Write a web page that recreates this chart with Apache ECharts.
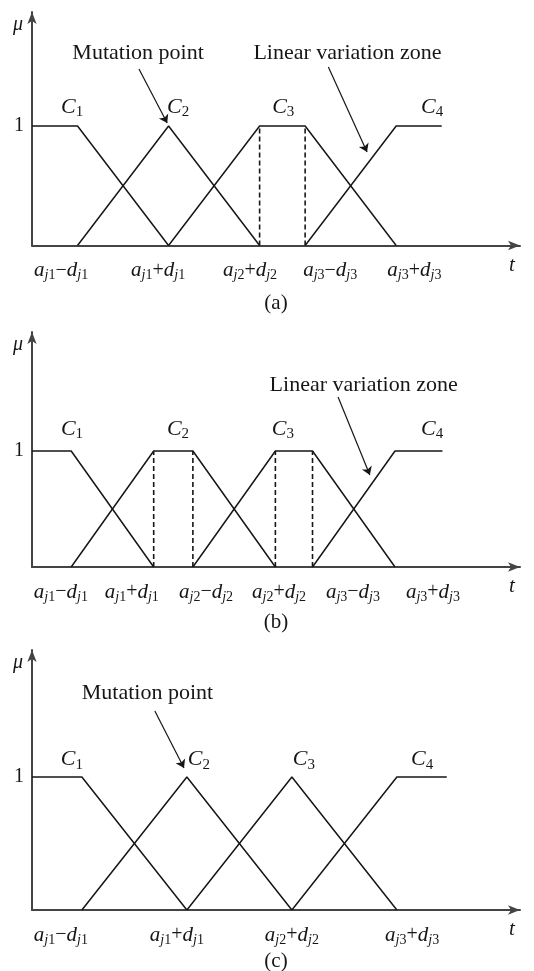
<!DOCTYPE html>
<html><head><meta charset="utf-8">
<script src="https://cdn.jsdelivr.net/npm/echarts@6/dist/echarts.min.js"></script>
<style>html,body{margin:0;padding:0;background:#fff}#c{width:534px;height:971px}</style>
</head><body><div id="c"></div>
<script>
// ================= DATA =================
const panelNames = ['(a)', '(b)', '(c)'];

// ---- panel (a) ----
const a_C1 = [[0, 1], [1, 1], [3, 0]];
const a_C2 = [[1, 0], [3, 1], [5, 0]];
const a_C3 = [[3, 0], [5, 1], [6, 1], [8, 0]];
const a_C4 = [[6, 0], [8, 1], [9, 1]];
const a_dashedX = [5, 6];
const a_tickPos = [0.64, 2.77, 4.79, 6.55, 8.40];
const a_tickLabels = ['a_{j1}−d_{j1}', 'a_{j1}+d_{j1}', 'a_{j2}+d_{j2}', 'a_{j3}−d_{j3}', 'a_{j3}+d_{j3}'];
const a_cLabelX = [0.88, 3.21, 5.52, 8.79];
const a_cLabelY = 1.16;
const a_noteText = ['Mutation point', 'Linear variation zone'];
const a_notePos = [[2.33, 1.61], [6.93, 1.61]];
const a_arrowFrom = [[2.35, 1.477], [6.51, 1.494]];
const a_arrowTo = [[2.97, 1.025], [7.36, 0.782]];

// ---- panel (b) ----
const b_C1 = [[0, 1], [0.95, 1], [2.95, 0]];
const b_C2 = [[0.95, 0], [2.95, 1], [3.9, 1], [5.9, 0]];
const b_C3 = [[3.9, 0], [5.9, 1], [6.8, 1], [8.8, 0]];
const b_C4 = [[6.8, 0], [8.8, 1], [9.95, 1]];
const b_dashedX = [2.95, 3.9, 5.9, 6.8];
const b_tickPos = [0.70, 2.42, 4.22, 5.99, 7.78, 9.72];
const b_tickLabels = ['a_{j1}−d_{j1}', 'a_{j1}+d_{j1}', 'a_{j2}−d_{j2}', 'a_{j2}+d_{j2}', 'a_{j3}−d_{j3}', 'a_{j3}+d_{j3}'];
const b_cLabelX = [0.97, 3.54, 6.08, 9.70];
const b_cLabelY = 1.19;
const b_noteText = ['Linear variation zone'];
const b_notePos = [[8.04, 1.569]];
const b_arrowFrom = [[7.42, 1.466]];
const b_arrowTo = [[8.19, 0.793]];

// ---- panel (c) ----
const c_C1 = [[0, 1], [0.95, 1], [2.95, 0]];
const c_C2 = [[0.95, 0], [2.95, 1], [4.95, 0]];
const c_C3 = [[2.95, 0], [4.95, 1], [6.95, 0]];
const c_C4 = [[4.95, 0], [6.95, 1], [7.9, 1]];
const c_dashedX = [];
const c_tickPos = [0.55, 2.76, 4.95, 7.24];
const c_tickLabels = ['a_{j1}−d_{j1}', 'a_{j1}+d_{j1}', 'a_{j2}+d_{j2}', 'a_{j3}+d_{j3}'];
const c_cLabelX = [0.76, 3.18, 5.18, 7.43];
const c_cLabelY = 1.13;
const c_noteText = ['Mutation point'];
const c_notePos = [[2.2, 1.632]];
const c_arrowFrom = [[2.34, 1.496]];
const c_arrowTo = [[2.895, 1.068]];

const cNames = ['C_{1}', 'C_{2}', 'C_{3}', 'C_{4}'];
const xMax = [10.72, 11.83, 9.295];
const yMax = [1.954, 2.026, 1.955];
const yTickValues = [1];

// ================= LAYOUT / STYLE =================
const FONT = "'Liberation Serif', 'DejaVu Serif', serif";
const INK = '#161616';
const AXIS = '#444';
const grids = [
  { left: 32, right: 14, top: 12, height: 233.5 },
  { left: 32, right: 14, top: 332, height: 235 },
  { left: 32, right: 14, top: 650, height: 260 }
];
const titleY = [303, 622, 961];

const panels = [
  { fns: [a_C1, a_C2, a_C3, a_C4], dashed: a_dashedX, tickPos: a_tickPos, tickLabels: a_tickLabels, cx: a_cLabelX, cy: a_cLabelY, notes: a_noteText, notePos: a_notePos, af: a_arrowFrom, at: a_arrowTo },
  { fns: [b_C1, b_C2, b_C3, b_C4], dashed: b_dashedX, tickPos: b_tickPos, tickLabels: b_tickLabels, cx: b_cLabelX, cy: b_cLabelY, notes: b_noteText, notePos: b_notePos, af: b_arrowFrom, at: b_arrowTo },
  { fns: [c_C1, c_C2, c_C3, c_C4], dashed: c_dashedX, tickPos: c_tickPos, tickLabels: c_tickLabels, cx: c_cLabelX, cy: c_cLabelY, notes: c_noteText, notePos: c_notePos, af: c_arrowFrom, at: c_arrowTo }
];

function toRich(s) {
  return s.replace(/[−+]/g, m => '{o|' + m + '}')
          .replace(/([A-Za-z])_\{([a-z]?)(\d)\}/g, (m, b, l, d) => '{i|' + b + '}' + (l ? '{si|' + l + '}' : '') + '{sn|' + d + '}');
}
const rich = {
  i:  { fontFamily: FONT, fontStyle: 'italic', fontSize: 21, color: INK, lineHeight: 24 },
  o:  { fontFamily: FONT, fontSize: 20, color: INK, lineHeight: 24 },
  si: { fontFamily: FONT, fontStyle: 'italic', fontSize: 14, color: INK, padding: [10, 0, 0, 0] },
  sn: { fontFamily: FONT, fontSize: 14, color: INK, padding: [10, 0, 0, 0] }
};

const xAxes = [], yAxes = [], series = [], graphics = [];
panels.forEach((p, k) => {
  xAxes.push({
    gridIndex: k, type: 'value', min: 0, max: xMax[k],
    axisLine: { show: true, onZero: false, symbol: ['none', 'arrow'], symbolSize: [7, 12], symbolOffset: [0, 0], lineStyle: { color: AXIS, width: 2 } },
    axisTick: { show: false }, splitLine: { show: false },
    axisLabel: {
      customValues: p.tickPos, margin: 13,
      formatter: v => {
        let best = 0;
        p.tickPos.forEach((t, j) => { if (Math.abs(t - v) < Math.abs(p.tickPos[best] - v)) best = j; });
        return toRich(p.tickLabels[best]);
      },
      rich: rich
    },
    name: 't', nameLocation: 'end', nameGap: -8,
    nameTextStyle: { fontFamily: FONT, fontStyle: 'italic', fontSize: 21, color: INK, align: 'center', verticalAlign: 'top', padding: [9, 0, 0, 0] }
  });
  yAxes.push({
    gridIndex: k, type: 'value', min: 0, max: yMax[k],
    axisLine: { show: true, onZero: false, symbol: ['none', 'arrow'], symbolSize: [7, 12], symbolOffset: [0, 0], lineStyle: { color: AXIS, width: 2 } },
    axisTick: { show: false }, splitLine: { show: false },
    axisLabel: { customValues: yTickValues, formatter: v => String(Math.round(v)), margin: 8, fontFamily: FONT, fontSize: 20, color: INK },
    name: 'μ', nameLocation: 'end', nameGap: -13,
    nameTextStyle: { fontFamily: FONT, fontStyle: 'italic', fontSize: 20, color: INK, align: 'right', verticalAlign: 'middle', padding: [0, 9, 0, 0] }
  });
  p.fns.forEach(fn => series.push({
    type: 'line', xAxisIndex: k, yAxisIndex: k, data: fn, symbol: 'none', silent: true,
    lineStyle: { color: INK, width: 1.5 }, animation: false
  }));
  p.dashed.forEach(x => series.push({
    type: 'line', xAxisIndex: k, yAxisIndex: k, data: [[x, 0], [x, 1]], symbol: 'none', silent: true,
    lineStyle: { color: INK, width: 1.6, type: [5, 3] }, animation: false
  }));
  series.push({
    type: 'scatter', xAxisIndex: k, yAxisIndex: k, clip: false, symbolSize: 1, silent: true,
    itemStyle: { color: 'rgba(255,255,255,0)', opacity: 1 },
    data: p.cx.map((x, j) => ({ value: [x, p.cy], name: cNames[j] })),
    label: {
      show: true, position: 'inside', color: INK, opacity: 1, textBorderWidth: 0, formatter: d => toRich(d.name),
      rich: {
        i: { fontFamily: FONT, fontStyle: 'italic', fontSize: 22, color: INK, lineHeight: 26 },
        sn: { fontFamily: FONT, fontSize: 15, color: INK, padding: [10, 0, 0, 0] }
      }
    }, animation: false
  });
  series.push({
    type: 'scatter', xAxisIndex: k, yAxisIndex: k, clip: false, symbolSize: 1, silent: true,
    itemStyle: { color: 'rgba(255,255,255,0)', opacity: 1 },
    data: p.notePos.map((pos, j) => ({ value: pos, name: p.notes[j] })),
    label: { show: true, position: 'inside', formatter: d => d.name, fontFamily: FONT, fontSize: 22, color: INK, opacity: 1, textBorderWidth: 0 },
    animation: false
  });
  series.push({
    type: 'lines', coordinateSystem: 'cartesian2d', xAxisIndex: k, yAxisIndex: k, silent: true,
    symbol: ['none', 'arrow'], symbolSize: 8,
    lineStyle: { color: INK, width: 1.2, opacity: 1 },
    data: p.af.map((f, j) => ({ coords: [f, p.at[j]] })), animation: false
  });
  graphics.push({
    type: 'text', x: 276, y: titleY[k],
    style: { text: panelNames[k], fontFamily: FONT, fontSize: 21, fill: INK, align: 'center', verticalAlign: 'middle' }
  });
});

const chart = echarts.init(document.getElementById('c'), null, { renderer: 'canvas' });
chart.setOption({
  backgroundColor: '#fff', animation: false,
  grid: grids, xAxis: xAxes, yAxis: yAxes, series: series, graphic: graphics
});
</script></body></html>
